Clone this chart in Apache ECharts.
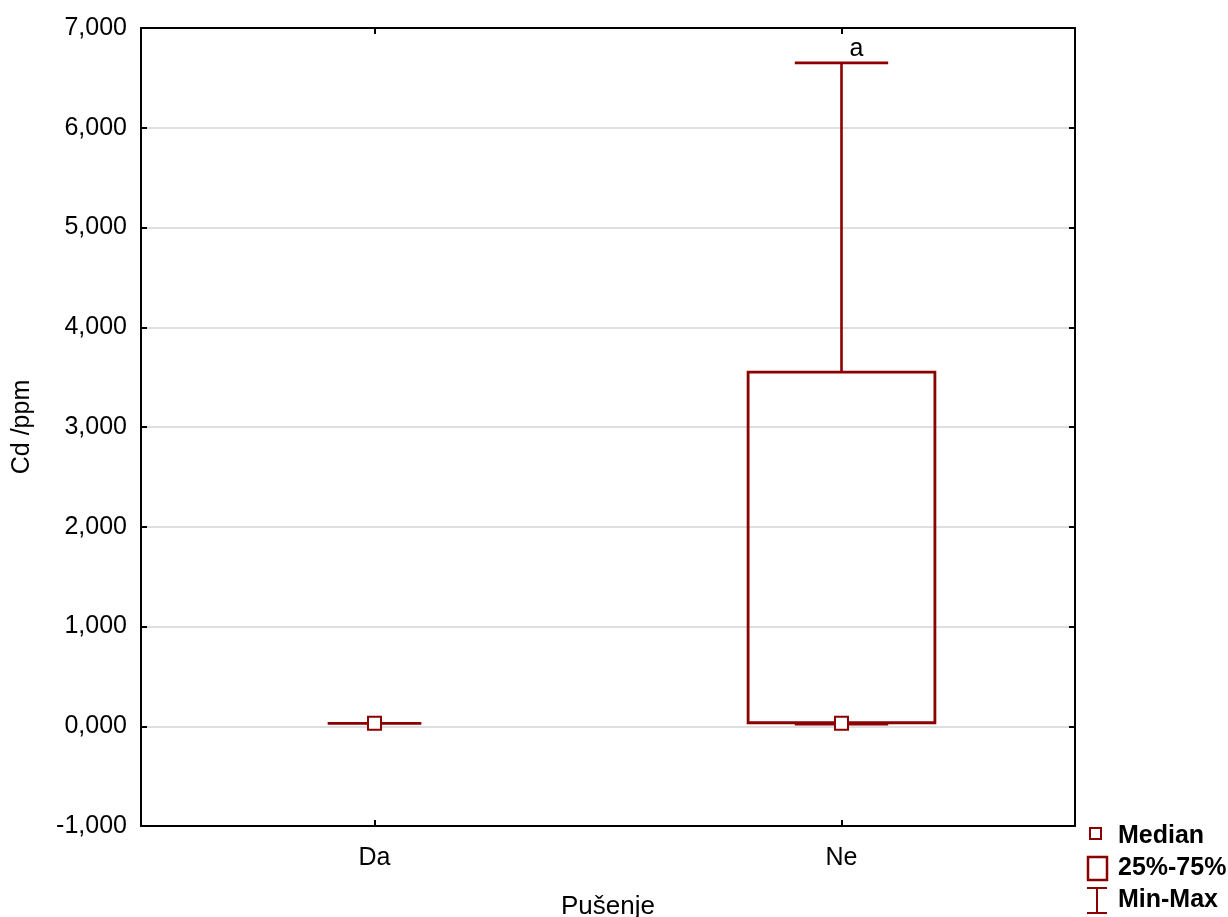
<!DOCTYPE html>
<html>
<head>
<meta charset="utf-8">
<script src="https://cdn.jsdelivr.net/npm/echarts@6/dist/echarts.min.js"></script>
<style>html,body{margin:0;padding:0;background:#fff;}#chart{width:1228px;height:917px;}</style>
</head>
<body>
<div id="chart"></div>
<script>
const categories = ['Da', 'Ne'];
const minVals = [0.03, 0.02];
const q1Vals = [0.03, 0.035];
const medianVals = [0.03, 0.03];
const q3Vals = [0.03, 3.55];
const maxVals = [0.03, 6.65];
const annotations = ['', 'a'];
const yMin = -1, yMax = 7, yInterval = 1;
const legendLabels = ['Median', '25%-75%', 'Min-Max'];

const RED = '#8b0000';
const FONT = '"Liberation Sans", Arial, sans-serif';
const fmt = v => v.toFixed(3).replace('.', ',');

const chart = echarts.init(document.getElementById('chart'));
const data = categories.map((c, i) => [i, minVals[i], q1Vals[i], medianVals[i], q3Vals[i], maxVals[i]]);

function renderItem(params, api) {
  const i = api.value(0);
  const x = api.coord([i, 0])[0];
  const band = api.size([1, 0])[0];
  const boxW = band * 0.4, capW = band * 0.2;
  const yMn = api.coord([i, api.value(1)])[1];
  const yQ1 = api.coord([i, api.value(2)])[1];
  const yMd = api.coord([i, api.value(3)])[1];
  const yQ3 = api.coord([i, api.value(4)])[1];
  const yMx = api.coord([i, api.value(5)])[1];
  const ls = {stroke: RED, lineWidth: 2.6, fill: null};
  const ch = [];
  const hasBox = api.value(4) > api.value(2);
  if (hasBox) {
    ch.push({type: 'line', shape: {x1: x, y1: yQ3, x2: x, y2: yMx}, style: ls});
    ch.push({type: 'line', shape: {x1: x, y1: yMn, x2: x, y2: yQ1}, style: ls});
  } else {
    ch.push({type: 'line', shape: {x1: x, y1: yMn, x2: x, y2: yMx}, style: ls});
  }
  ch.push({type: 'line', shape: {x1: x - capW / 2, y1: yMx, x2: x + capW / 2, y2: yMx}, style: ls});
  ch.push({type: 'line', shape: {x1: x - capW / 2, y1: yMn, x2: x + capW / 2, y2: yMn}, style: ls});
  if (hasBox) {
    ch.push({type: 'rect', shape: {x: x - boxW / 2, y: yQ3, width: boxW, height: yQ1 - yQ3}, style: {stroke: RED, lineWidth: 2.8, fill: 'rgba(0,0,0,0)'}});
  }
  ch.push({type: 'rect', shape: {x: x - 6.5, y: yMd - 6.5, width: 13, height: 13}, style: {stroke: RED, lineWidth: 2, fill: '#fff'}});
  const ann = annotations[i];
  if (ann) {
    ch.push({type: 'text', x: x + 15, y: yMx - 14, style: {text: ann, fill: '#000', font: '25px ' + FONT, align: 'center', verticalAlign: 'middle'}});
  }
  return {type: 'group', children: ch};
}

const axisLineStyle = {show: true, onZero: false, lineStyle: {color: '#000', width: 2}};
const tickStyle = {show: true, inside: true, length: 6, lineStyle: {color: '#000', width: 2}};
const option = {
  backgroundColor: '#fff',
  animation: false,
  grid: {left: 141, right: 153, top: 28, bottom: 91, outerBoundsMode: 'none', containLabel: false},
  xAxis: [{
    type: 'category', data: categories, position: 'bottom',
    axisLine: axisLineStyle,
    axisTick: Object.assign({alignWithLabel: true}, tickStyle),
    axisLabel: {color: '#000', fontSize: 25, fontFamily: FONT, margin: 20},
    name: 'Pušenje', nameLocation: 'middle', nameGap: 68,
    nameTextStyle: {color: '#000', fontSize: 26, fontFamily: FONT},
    splitLine: {show: false}
  }, {
    type: 'category', data: categories, position: 'top',
    axisLine: axisLineStyle,
    axisTick: Object.assign({alignWithLabel: true}, tickStyle),
    axisLabel: {show: false}, splitLine: {show: false}
  }],
  yAxis: [{
    type: 'value', min: yMin, max: yMax, interval: yInterval, position: 'left',
    axisLine: axisLineStyle,
    axisTick: tickStyle,
    axisLabel: {color: '#000', fontSize: 25, fontFamily: FONT, margin: 14, formatter: fmt},
    splitLine: {show: true, lineStyle: {color: '#d4d4d4', width: 1.5}},
    name: 'Cd /ppm', nameLocation: 'middle', nameGap: 106,
    nameTextStyle: {color: '#000', fontSize: 25, fontFamily: FONT}
  }, {
    type: 'value', min: yMin, max: yMax, interval: yInterval, position: 'right',
    axisLine: axisLineStyle,
    axisTick: tickStyle,
    axisLabel: {show: false}, splitLine: {show: false}
  }],
  series: [{
    type: 'custom', xAxisIndex: 0, yAxisIndex: 0,
    renderItem: renderItem, data: data, z: 10,
    encode: {x: 0, y: [1, 2, 3, 4, 5]}
  }],
  graphic: [
    {type: 'rect', shape: {x: 1090, y: 828, width: 11, height: 11}, style: {stroke: RED, lineWidth: 2, fill: '#fff'}},
    {type: 'rect', shape: {x: 1088, y: 857, width: 19, height: 23}, style: {stroke: RED, lineWidth: 2.5, fill: '#fff'}},
    {type: 'line', shape: {x1: 1097, y1: 888, x2: 1097, y2: 913}, style: {stroke: RED, lineWidth: 2}},
    {type: 'line', shape: {x1: 1087, y1: 888, x2: 1107, y2: 888}, style: {stroke: RED, lineWidth: 2}},
    {type: 'line', shape: {x1: 1087, y1: 913, x2: 1107, y2: 913}, style: {stroke: RED, lineWidth: 2}},
    {type: 'text', x: 1118, y: 836, style: {text: legendLabels[0], fill: '#000', font: 'bold 25px ' + FONT, verticalAlign: 'middle'}},
    {type: 'text', x: 1118, y: 868, style: {text: legendLabels[1], fill: '#000', font: 'bold 25px ' + FONT, verticalAlign: 'middle'}},
    {type: 'text', x: 1118, y: 900, style: {text: legendLabels[2], fill: '#000', font: 'bold 25px ' + FONT, verticalAlign: 'middle'}}
  ]
};
chart.setOption(option);
</script>
</body>
</html>
